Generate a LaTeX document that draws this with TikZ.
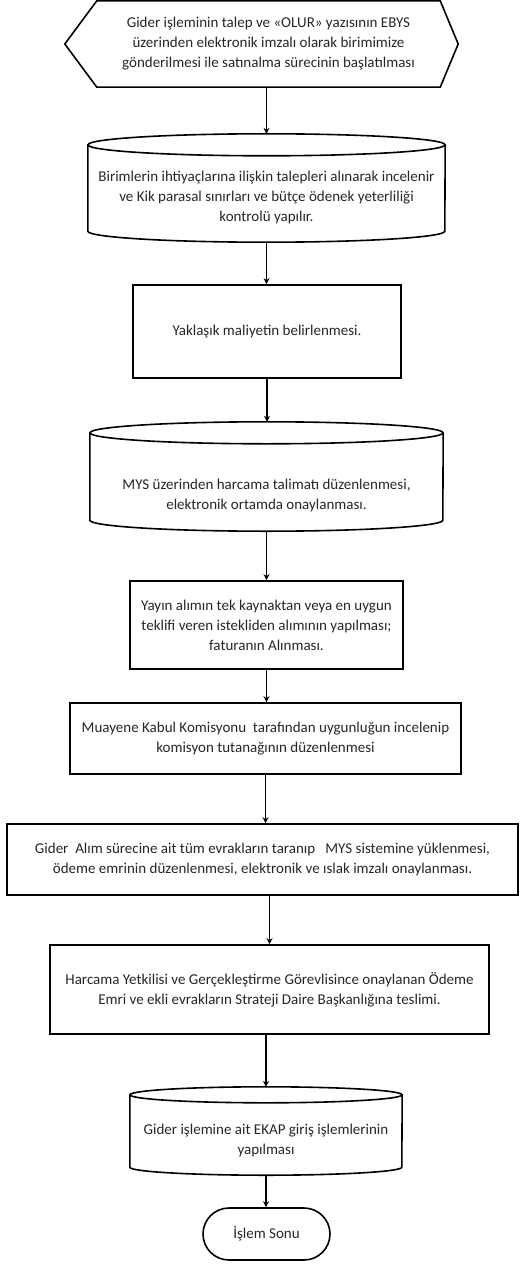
\documentclass[tikz,border=0pt]{standalone}
\usepackage{fontspec}
\setmainfont{Carlito}
\usetikzlibrary{shapes.misc,arrows.meta}

\tikzset{
  kutu/.style={draw, line width=1.6pt, align=center, inner sep=0pt},
  govde/.style={align=center, inner sep=0pt},
  ok/.style={line width=1.4pt, -{Stealth[length=6pt,width=6pt]}},
}

% silindir: #1 düğüm, #2 x yarıçap, #3 y yarıçap
\newcommand{\silindirciz}[3]{%
  \draw[line width=1.6pt] (#1.north) ellipse [x radius=#2pt, y radius=#3pt];
  \draw[line width=1.6pt] (#1.north west) -- (#1.south west)
    arc[start angle=180, end angle=360, x radius=#2pt, y radius=#3pt] -- (#1.north east);
}

\begin{document}
\begin{tikzpicture}[x=1pt, y=-1pt, font=\fontsize{15}{20}\selectfont, text=black!85]

    \useasboundingbox (0,0) rectangle (520,1265);

    % 起始六边形
    \node[govde, minimum width=343, minimum height=86] (basla) at (268.5,44)
      {Gider işleminin talep ve «OLUR» yazısının EBYS\\ üzerinden elektronik imzalı olarak birimimize\\ gönderilmesi ile satınalma sürecinin başlatılması};
    \draw[line width=1.6pt] (basla.north west) -- (basla.north east) -- ([xshift=18pt]basla.east)
      -- (basla.south east) -- (basla.south west) -- ([xshift=-32pt]basla.west) -- cycle;

    % 步骤
    \node[govde, minimum width=357, minimum height=86, text height=69pt] (talep) at (266.5,188)
      {Birimlerin ihtiyaçlarına ilişkin talepleri alınarak incelenir\\ ve Kik parasal sınırları ve bütçe ödenek yeterliliği\\ kontrolü yapılır.};
    \silindirciz{talep}{178.5}{11}
    \node[kutu, minimum width=268, minimum height=93] (maliyet) at (267,331.5)
      {Yaklaşık maliyetin belirlenmesi.};
    \node[govde, minimum width=353, minimum height=87, text height=68pt] (talimat) at (266.5,476.5)
      {MYS üzerinden harcama talimatı düzenlenmesi,\\ elektronik ortamda onaylanması.};
    \silindirciz{talimat}{176.5}{11}
    \node[kutu, minimum width=273, minimum height=88] (alim) at (266.5,625)
      {Yayın alımın tek kaynaktan veya en uygun\\ teklifi veren istekliden alımının yapılması;\\ faturanın Alınması.};
    \node[kutu, minimum width=391, minimum height=71] (muayene) at (265.5,738.5)
      {Muayene Kabul Komisyonu\ \ tarafından uygunluğun incelenip\\ komisyon tutanağının düzenlenmesi};
    \node[kutu, minimum width=511, minimum height=71] (evrak) at (262.5,859.5)
      {Gider\ \ Alım sürecine ait tüm evrakların taranıp\ \ \ MYS sistemine yüklenmesi,\\ ödeme emrinin düzenlenmesi, elektronik ve ıslak imzalı onaylanması.};
    \node[kutu, minimum width=439, minimum height=89] (teslim) at (269.5,989.5)
      {Harcama Yetkilisi ve Gerçekleştirme Görevlisince onaylanan Ödeme\\ Emri ve ekli evrakların Strateji Daire Başkanlığına teslimi.};
    \node[govde, minimum width=272, minimum height=72, text height=49pt] (ekap) at (266,1131)
      {Gider işlemine ait EKAP giriş işlemlerinin\\ yapılması};
    \silindirciz{ekap}{136}{8}

    % 结束
    \node[kutu, rounded rectangle, minimum width=127, minimum height=52] (son) at (266.5,1234) {İşlem Sonu};

    % 箭头
    \draw[ok] (basla.south -| talep.north) -- ([yshift=11pt]talep.north);
    \draw[ok] ([yshift=-11pt]talep.south) -- (talep.south |- maliyet.north);
    \draw[ok] (maliyet.south) -- ([yshift=11pt]maliyet.south |- talimat.north);
    \draw[ok] ([yshift=-11pt]talimat.south) -- (talimat.south |- alim.north);
    \draw[ok] (alim.south) -- (alim.south |- muayene.north);
    \draw[ok] (muayene.south) -- (muayene.south |- evrak.north);
    \draw[ok] (evrak.south -| teslim.north) -- (teslim.north);
    \draw[ok] (ekap.north |- teslim.south) -- ([yshift=8pt]ekap.north);
    \draw[ok] ([yshift=-8pt]ekap.south) -- (ekap.south |- son.north);

  \end{tikzpicture}
\end{document}
